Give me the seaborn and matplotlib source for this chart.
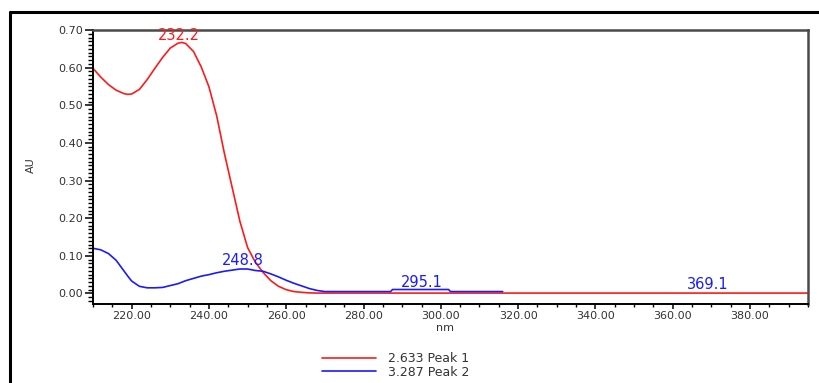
import matplotlib
matplotlib.use("Agg")
import numpy as np
import pandas as pd
import matplotlib.pyplot as plt
import seaborn as sns
from matplotlib.ticker import MultipleLocator, FormatStrFormatter
from matplotlib.lines import Line2D

# ---------------- data ----------------
peak1_nm = [210, 212, 214, 216, 218, 219, 220, 222, 224, 226, 228, 230, 232, 233, 234,
            236, 238, 240, 242, 244, 246, 248, 250, 252, 254, 256, 258, 260, 262, 264,
            266, 268, 300, 350, 395]
peak1_au = [0.598, 0.575, 0.555, 0.540, 0.531, 0.529, 0.530, 0.542, 0.568, 0.598, 0.627,
            0.652, 0.665, 0.667, 0.664, 0.643, 0.602, 0.549, 0.472, 0.372, 0.282, 0.192,
            0.122, 0.083, 0.056, 0.034, 0.019, 0.010, 0.005, 0.003, 0.0015, 0.001, 0.001,
            0.001, 0.001]

peak2_nm = [210, 212, 214, 215, 216, 218, 219, 220, 222, 224, 226, 228, 230, 232, 234,
            236, 238, 240, 242, 244, 246, 248, 250, 252, 254, 256, 258, 260, 262, 264,
            266, 268, 270, 287, 287.5, 302, 302.5, 316]
peak2_au = [0.120, 0.116, 0.106, 0.097, 0.088, 0.060, 0.046, 0.033, 0.019, 0.015, 0.015,
            0.016, 0.021, 0.026, 0.034, 0.040, 0.046, 0.050, 0.055, 0.059, 0.062, 0.065,
            0.065, 0.061, 0.059, 0.052, 0.044, 0.035, 0.027, 0.020, 0.013, 0.008, 0.005,
            0.005, 0.0105, 0.0105, 0.005, 0.005]

series_names = ["2.633 Peak 1", "3.287 Peak 2"]
series_colors = ["#ff1a1a", "#1a1aff"]

peak_labels = ["232.2", "248.8", "295.1", "369.1"]
peak_label_x = [232.2, 248.8, 295.1, 369.1]
peak_label_y = [0.686, 0.088, 0.030, 0.024]
peak_label_series = [0, 1, 1, 1]

x_ticks_major = 20
x_ticks_minor = 5
y_ticks_major = 0.1
y_ticks_minor = 0.01

# ---------------- frame ----------------
df = pd.concat([
    pd.DataFrame({"nm": peak1_nm, "AU": peak1_au, "series": series_names[0]}),
    pd.DataFrame({"nm": peak2_nm, "AU": peak2_au, "series": series_names[1]}),
], ignore_index=True)

sns.set_style("white")
plt.rcParams["font.family"] = ["DejaVu Sans"]

W, H = 820, 383
fig = plt.figure(figsize=(W / 100, H / 100), dpi=100)
L, R, T, B = 93, 808, 30, 304
ax = fig.add_axes([L / W, 1 - B / H, (R - L) / W, (B - T) / H])

sns.lineplot(data=df, x="nm", y="AU", hue="series", hue_order=series_names,
             palette=dict(zip(series_names, series_colors)), estimator=None,
             linewidth=1.2, ax=ax)

ax.set_xlim(210, 395)
ax.set_ylim(-0.028, 0.70)

ax.xaxis.set_major_locator(MultipleLocator(x_ticks_major))
ax.xaxis.set_minor_locator(MultipleLocator(x_ticks_minor))
ax.yaxis.set_major_locator(MultipleLocator(y_ticks_major))
ax.yaxis.set_minor_locator(MultipleLocator(y_ticks_minor))
ax.xaxis.set_major_formatter(FormatStrFormatter("%.2f"))
ax.yaxis.set_major_formatter(FormatStrFormatter("%.2f"))

tick_color = "#333333"
ax.tick_params(axis="y", which="major", direction="out", length=6, width=1.1,
               pad=1.5, labelsize=8, labelcolor=tick_color, color="black", left=True)
ax.tick_params(axis="y", which="minor", direction="out", length=3.5, width=1.0,
               color="black", left=True)
ax.tick_params(axis="x", which="major", direction="out", length=3.5, width=1.1,
               pad=1.2, labelsize=8, labelcolor=tick_color, color="black", bottom=True)
ax.tick_params(axis="x", which="minor", direction="out", length=2.5, width=1.0,
               color="black", bottom=True)

for s in ["left", "bottom"]:
    ax.spines[s].set_color("black")
    ax.spines[s].set_linewidth(1.4)
for s in ["top", "right"]:
    ax.spines[s].set_color("#4a4a4a")
    ax.spines[s].set_linewidth(1.8)

ax.set_xlabel("nm", fontsize=8, color=tick_color)
ax.set_ylabel("AU", fontsize=8, color=tick_color)
ax.xaxis.set_label_coords((445 - L) / (R - L), (B - 323) / (B - T))
ax.yaxis.set_label_coords((36 - L) / (R - L), (B - 165) / (B - T))

for txt, x, y, si in zip(peak_labels, peak_label_x, peak_label_y, peak_label_series):
    ax.text(x, y, txt, color=series_colors[si], fontsize=10.5, ha="center", va="center")

# legend below the axes
handles, labels = ax.get_legend_handles_labels()
ax.get_legend().remove()
leg = fig.legend(handles, labels, loc="upper left",
                 bbox_to_anchor=(322 / W, 1 - 352 / H), frameon=False,
                 fontsize=9, handlelength=4.3, handletextpad=1.0,
                 labelspacing=0.05, borderpad=0, borderaxespad=0)
for t in leg.get_texts():
    t.set_color(tick_color)

# outer report frame
fig.add_artist(Line2D([10 / W, 1.0], [1 - 12 / H, 1 - 12 / H], color="black",
                      linewidth=2.2, transform=fig.transFigure))
fig.add_artist(Line2D([10 / W, 10 / W], [1 - 12 / H, 0.0], color="black",
                      linewidth=2.2, transform=fig.transFigure))

fig.savefig("out.png", dpi=100)
